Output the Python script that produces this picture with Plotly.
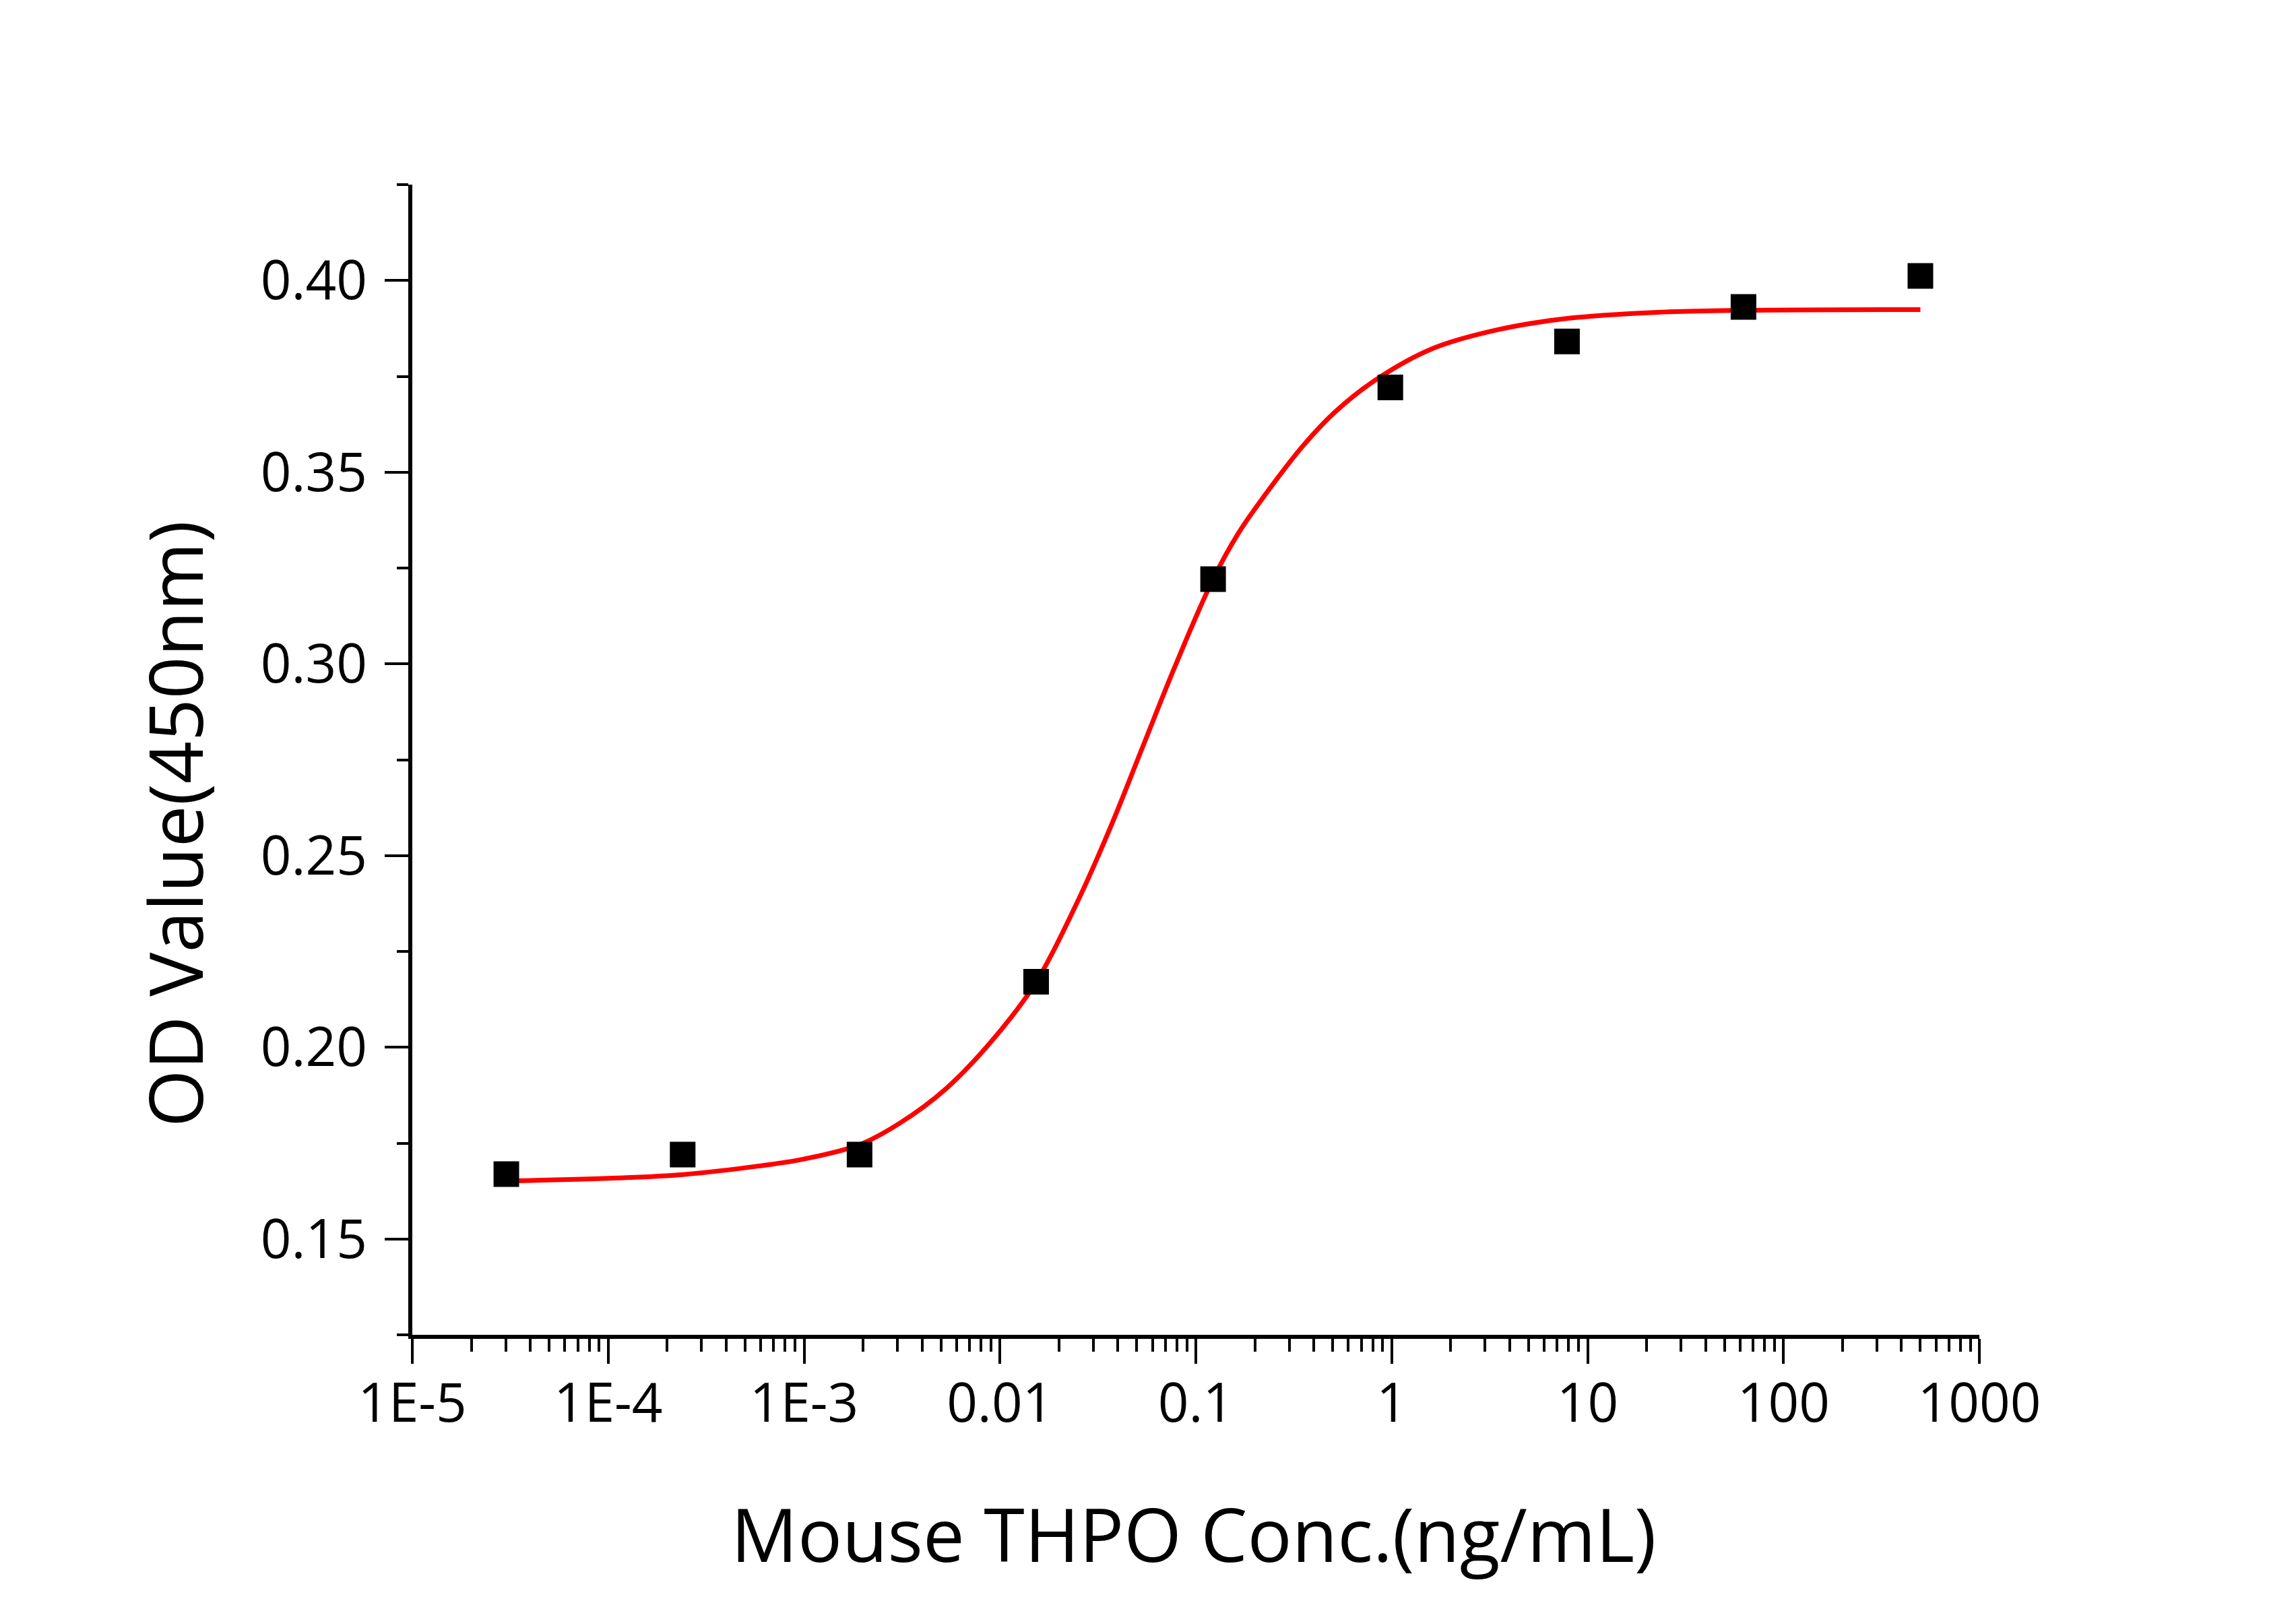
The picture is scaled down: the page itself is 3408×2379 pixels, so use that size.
import plotly.graph_objects as go

# measured points (ng/mL vs OD450)
conc = [3.02e-5, 2.40e-4, 1.92e-3, 0.0153, 0.1225, 0.984, 7.85, 62.5, 500]
od = [0.1669, 0.1720, 0.1720, 0.2171, 0.3221, 0.3721, 0.3841, 0.3931, 0.4012]

# fitted curve
fit_x = [3.02e-5, 1.10e-4, 2.40e-4, 5.81e-4, 1.01e-3, 1.92e-3, 3.08e-3, 5.36e-3,
         9.35e-3, 0.0153, 0.0249, 0.0364, 0.0532, 0.0778, 0.1225, 0.1655, 0.2421,
         0.354, 0.516, 0.813, 1.61, 3.44, 7.90, 22.8, 62.5, 500]
fit_y = [0.1651, 0.1659, 0.1668, 0.1690, 0.1709, 0.1746, 0.1802, 0.1894,
         0.2024, 0.2170, 0.2380, 0.2570, 0.2780, 0.2990, 0.3221, 0.3342, 0.3462,
         0.3570, 0.3658, 0.3738, 0.3822, 0.3871, 0.3901, 0.3917, 0.3922, 0.3924]

x_tick_vals = [1e-5, 1e-4, 1e-3, 0.01, 0.1, 1, 10, 100, 1000]
x_tick_text = ["1E-5", "1E-4", "1E-3", "0.01", "0.1", "1", "10", "100", "1000"]

fnt = "Open Sans"

fig = go.Figure()
fig.add_trace(go.Scatter(x=fit_x, y=fit_y, mode="lines", line=dict(color="#ff0000", width=7, shape="spline"),
                         hoverinfo="skip"))
fig.add_trace(go.Scatter(x=conc, y=od, mode="markers",
                         marker=dict(symbol="square", size=38, color="black")))

fig.update_layout(
    width=3408, height=2379,
    margin=dict(l=604, r=478, t=266, b=406),
    paper_bgcolor="white", plot_bgcolor="white",
    showlegend=False,
    font=dict(family=fnt, size=80, color="black"),
)

fig.update_xaxes(
    type="log", range=[-5, 3],
    tickvals=x_tick_vals, ticktext=x_tick_text,
    showgrid=False, zeroline=False,
    showline=True, linecolor="black", linewidth=6,
    ticks="outside", ticklen=37, tickwidth=4, tickcolor="black",
    minor=dict(dtick="D1", ticks="outside", ticklen=19, tickwidth=4, tickcolor="black", showgrid=False),
    tickfont=dict(family=fnt, size=80, color="black"),
    ticklabelstandoff=-10,
)
fig.update_yaxes(
    range=[0.125, 0.425], dtick=0.05, tick0=0, tickformat=".2f",
    showgrid=False, zeroline=False,
    showline=True, linecolor="black", linewidth=6,
    ticks="outside", ticklen=35, tickwidth=4, tickcolor="black",
    minor=dict(dtick=0.025, ticks="outside", ticklen=17, tickwidth=4, tickcolor="black", showgrid=False),
    tickfont=dict(family=fnt, size=80, color="black"),
    ticklabelstandoff=10,
)

fig.add_annotation(text="Mouse THPO Conc.(ng/mL)", xref="paper", yref="paper",
                   x=0.4987, y=-0.172, xanchor="center", yanchor="middle", showarrow=False,
                   font=dict(family=fnt, size=110, color="black"))
fig.add_annotation(text="OD Value(450nm)", xref="paper", yref="paper",
                   x=-0.1522, y=0.4446, xanchor="center", yanchor="middle", showarrow=False,
                   textangle=-90, font=dict(family=fnt, size=110, color="black"))

fig.write_html("out.html")
